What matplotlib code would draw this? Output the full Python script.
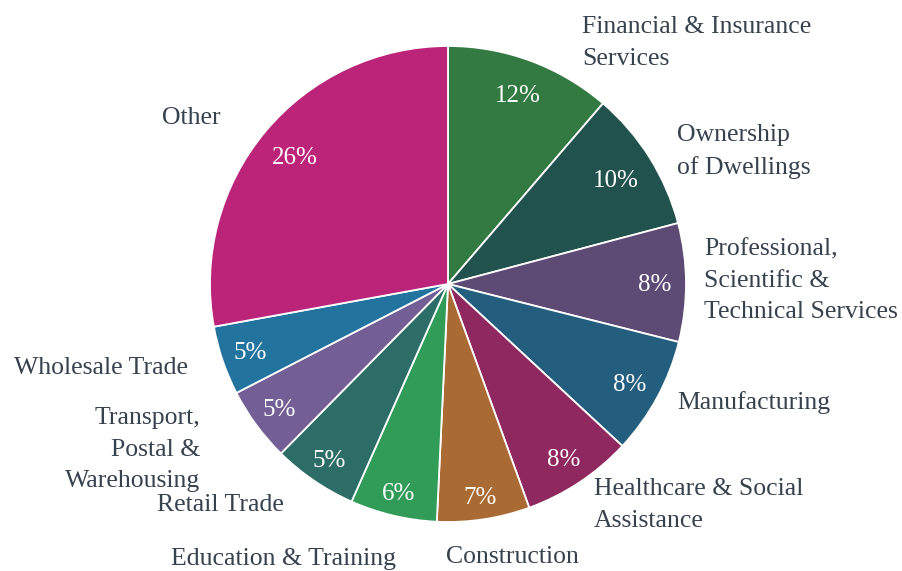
import numpy as np
import matplotlib.pyplot as plt

# industry shares (clockwise from 12 o'clock)
industries = [
    "Financial & Insurance\nServices",
    "Ownership\nof Dwellings",
    "Professional,\nScientific &\nTechnical Services",
    "Manufacturing",
    "Healthcare & Social\nAssistance",
    "Construction",
    "Education & Training",
    "Retail Trade",
    "Transport,\nPostal &\nWarehousing",
    "Wholesale Trade",
    "Other",
]
shares = [11.3, 9.6, 8.05, 8.0, 7.55, 6.3, 5.9, 5.75, 5.05, 4.7, 27.9]
pct_labels = ["12%", "10%", "8%", "8%", "8%", "7%", "6%", "5%", "5%", "5%", "26%"]

colors = ["#327a41", "#21524d", "#5d4a75", "#235e7e", "#8e285f", "#aa6a33",
          "#319b58", "#2d6d67", "#735f96", "#23739f", "#bc247a"]

# where the outside labels sit (pie radius = 1), and how far out the % text goes
label_pos = [(0.563, 1.013), (0.962, 0.555), (1.076, 0.013), (0.962, -0.50),
             (0.613, -0.929), (-0.008, -1.147), (-0.218, -1.155), (-0.689, -0.929),
             (-1.042, -0.697), (-1.092, -0.353), (-0.954, 0.697)]
pct_dist = [0.85, 0.83, 0.87, 0.87, 0.88, 0.90, 0.90, 0.89, 0.88, 0.88, 0.84]

text_col = "#37424f"
font = ["Liberation Serif", "DejaVu Serif"]

fig = plt.figure(figsize=(9.03, 5.71), dpi=100)
ax = fig.add_axes([0, 0, 1, 1])

wedges, _ = ax.pie(shares, colors=colors, startangle=90, counterclock=False,
                   radius=1, wedgeprops=dict(edgecolor="white", linewidth=1.3))

for i, w in enumerate(wedges):
    mid = np.radians((w.theta1 + w.theta2) / 2)
    d = pct_dist[i]
    ax.text(d * np.cos(mid), d * np.sin(mid) - 0.008, pct_labels[i], color="white",
            ha="center", va="center", fontsize=18, family=font)

    lx, ly = label_pos[i]
    ax.text(lx, ly, industries[i], color=text_col, fontsize=18.5, family=font,
            ha="left" if i < 6 else "right", va="center",
            linespacing=1.56)

# pie centre at (448, 284) px, radius 238 px
ax.set_xlim(-448 / 238, (903 - 448) / 238)
ax.set_ylim(-(571 - 284) / 238, 284 / 238)
ax.set_aspect("auto")
ax.axis("off")

fig.savefig("out.png", dpi=100)
